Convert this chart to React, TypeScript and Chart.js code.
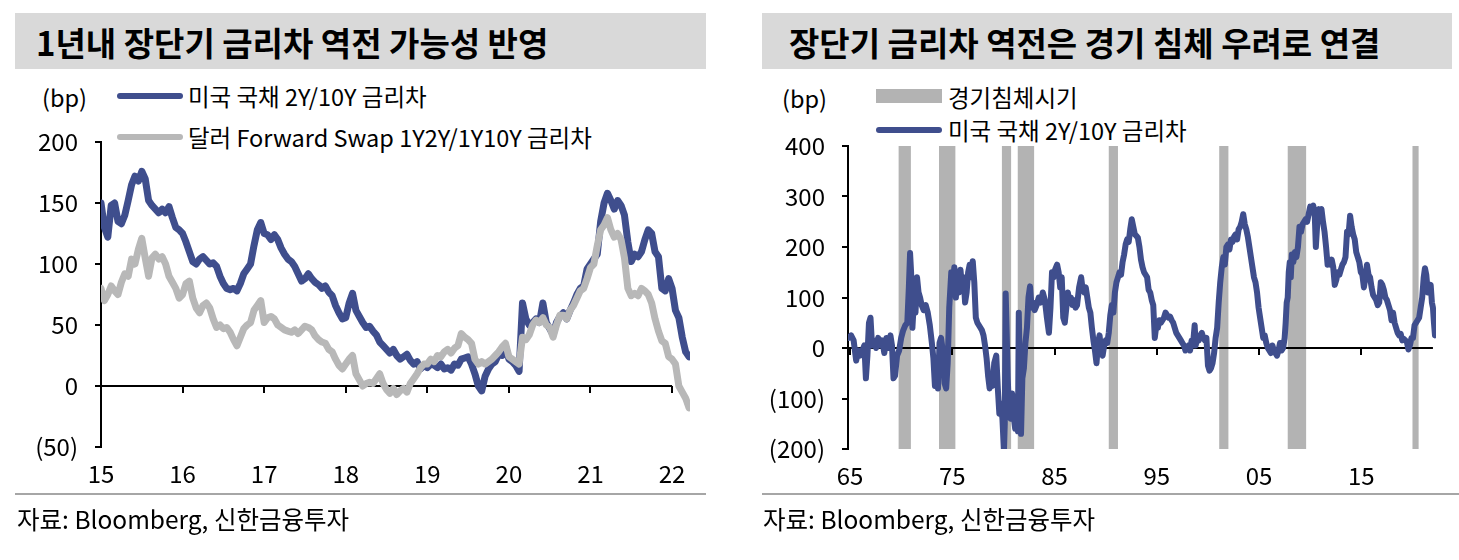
import React, { useEffect, useRef } from 'react';
import { Chart, registerables } from 'chart.js';

Chart.register(...registerables);

// ---------- style constants ----------
const NAVY = '#3f4e8d';
const LIGHT_GRAY = '#b8b8b8';
const REC_GRAY = '#b3b3b3';
const HEADER_BG = '#d9d9d9';
const RULE_GRAY = '#a6a6a6';
const FONT = '"Noto Sans CJK KR", "Noto Sans", sans-serif';

// ---------- texts ----------
const LEFT_TITLE = '1년내 장단기 금리차 역전 가능성 반영';
const RIGHT_TITLE = '장단기 금리차 역전은 경기 침체 우려로 연결';
const SERIES_US = '미국 국채 2Y/10Y 금리차';
const SERIES_FWD = '달러 Forward Swap 1Y2Y/1Y10Y 금리차';
const SERIES_REC = '경기침체시기';
const UNIT = '(bp)';
const SOURCE = '자료: Bloomberg, 신한금융투자';

// ---------- left chart data (semi-monthly, from Jan 2015) ----------
const LEFT_START_YEAR = 2015;
const LEFT_POINTS_PER_YEAR = 24;
const LEFT_US_2Y10Y = [
  150, 130, 122, 148, 150, 135, 133, 140, 152, 165, 172, 168, 176, 170, 152, 148, 145, 142, 145, 142, 147, 138, 130, 128,
  125, 118, 110, 102, 100, 104, 106, 103, 100, 101, 98, 90, 84, 80, 79, 80, 78, 84, 92, 96, 100, 115, 128, 134,
  125, 124, 120, 124, 120, 113, 108, 104, 102, 98, 92, 86, 88, 92, 88, 85, 83, 80, 82, 77, 74, 66, 60, 55,
  56, 68, 76, 62, 57, 52, 48, 49, 45, 42, 36, 33, 30, 27, 30, 25, 22, 24, 26, 21, 18, 20, 14, 17,
  15, 18, 17, 15, 18, 14, 15, 13, 18, 17, 22, 23, 24, 18, 10, 0, -4, 8, 14, 18, 20, 26, 25, 33,
  22, 20, 17, 12, 68, 55, 50, 52, 55, 52, 68, 52, 47, 42, 52, 57, 60, 55, 62, 68, 75, 80, 82, 96,
  100, 104, 108, 135, 150, 158, 152, 145, 152, 148, 140, 118, 102, 108, 106, 110, 120, 128, 125, 110, 106, 80, 78, 88,
  80, 62, 56, 40, 28, 24,
];
const LEFT_FWD_SWAP = [
  80, 70, 75, 82, 78, 75, 85, 92, 90, 104, 100, 112, 121, 105, 90, 105, 108, 104, 106, 100, 90, 85, 80, 72,
  75, 84, 86, 72, 64, 60, 66, 68, 64, 55, 48, 50, 47, 48, 44, 38, 33, 40, 47, 50, 52, 62, 66, 70,
  52, 56, 57, 55, 50, 48, 46, 45, 44, 46, 43, 46, 49, 48, 46, 41, 38, 36, 35, 30, 28, 22, 17, 14,
  18, 22, 25, 10, 5, 0, 2, 3, 2, 6, 10, 2, -3, -6, -2, -7, -4, -2, -5, 2, 6, 10, 15, 18,
  18, 22, 20, 25, 24, 28, 30, 27, 31, 33, 43, 40, 38, 35, 22, 18, 20, 18, 20, 22, 25, 28, 32, 35,
  24, 22, 20, 18, 40, 38, 42, 50, 54, 52, 56, 50, 48, 40, 50, 58, 58, 55, 62, 66, 72, 78, 80, 88,
  97, 100, 115, 128, 132, 138, 128, 122, 125, 120, 105, 80, 74, 76, 74, 80, 78, 75, 68, 55, 45, 37, 35, 24,
  22, 18, 0, -5, -10, -18,
];
const LEFT_X_TICKS = [2015, 2016, 2017, 2018, 2019, 2020, 2021, 2022];
const LEFT_Y_TICKS = [-50, 0, 50, 100, 150, 200];

// ---------- right chart data: [year, bp] ----------
const RIGHT_US_2Y10Y: [number, number][] = [
  [1964.85, 20], [1965.1, 25], [1965.35, 15], [1965.6, -25], [1965.8, -5], [1966.0, -15], [1966.2, -5], [1966.4, 5],
  [1966.55, -60], [1966.7, -15], [1966.85, 50], [1967.0, 60], [1967.15, 5], [1967.35, 15], [1967.55, 0], [1967.75, 20],
  [1967.95, 5], [1968.15, 15], [1968.35, -10], [1968.55, 20], [1968.75, 0], [1968.95, 25], [1969.1, 5], [1969.25, -60],
  [1969.4, -55], [1969.6, -15], [1969.8, -5], [1970.0, 20], [1970.2, 35], [1970.4, 45], [1970.6, 50], [1970.75, 120],
  [1970.87, 188], [1970.97, 150], [1971.1, 40], [1971.25, 95], [1971.4, 70], [1971.55, 140], [1971.7, 110], [1971.85, 100],
  [1972.0, 85], [1972.2, 75], [1972.4, 85], [1972.6, 70], [1972.8, 45], [1973.0, 10], [1973.15, -20], [1973.3, -75],
  [1973.45, -40], [1973.6, -80], [1973.75, 10], [1973.9, 20], [1974.1, -10], [1974.25, -70], [1974.4, -80], [1974.55, -30],
  [1974.7, 80], [1974.9, 150], [1975.05, 130], [1975.2, 160], [1975.35, 100], [1975.5, 150], [1975.65, 110], [1975.8, 155],
  [1975.95, 120], [1976.1, 140], [1976.25, 90], [1976.4, 110], [1976.55, 150], [1976.7, 165], [1976.85, 140], [1977.0, 172],
  [1977.15, 130], [1977.3, 60], [1977.45, 50], [1977.6, 45], [1977.75, 40], [1977.9, 35], [1978.05, 25], [1978.2, 5],
  [1978.35, -20], [1978.5, -55], [1978.65, -80], [1978.8, -60], [1978.95, -75], [1979.1, -30], [1979.3, -15], [1979.45, -80],
  [1979.6, -130], [1979.75, -110], [1979.9, -140], [1980.05, -205], [1980.13, -150], [1980.22, 108], [1980.32, 30], [1980.42, -60],
  [1980.55, -125], [1980.7, -140], [1980.85, -90], [1981.0, -135], [1981.15, -160], [1981.3, -100], [1981.42, -165], [1981.5, 70],
  [1981.6, -40], [1981.72, -170], [1981.85, -60], [1982.0, -40], [1982.15, 10], [1982.3, 40], [1982.45, 100], [1982.6, 122],
  [1982.75, 80], [1982.9, 90], [1983.05, 75], [1983.25, 85], [1983.45, 100], [1983.65, 90], [1983.85, 110], [1984.05, 95],
  [1984.25, 60], [1984.45, 30], [1984.6, 80], [1984.75, 150], [1984.9, 140], [1985.05, 155], [1985.25, 165], [1985.4, 150],
  [1985.55, 120], [1985.7, 140], [1985.85, 60], [1986.0, 50], [1986.15, 80], [1986.3, 110], [1986.45, 90], [1986.6, 100],
  [1986.75, 85], [1986.9, 95], [1987.05, 80], [1987.2, 85], [1987.4, 120], [1987.6, 140], [1987.75, 115], [1987.9, 110],
  [1988.05, 120], [1988.2, 100], [1988.35, 80], [1988.5, 70], [1988.65, 40], [1988.8, 15], [1988.95, -5], [1989.1, -30],
  [1989.25, 10], [1989.4, 25], [1989.55, -5], [1989.7, -15], [1989.85, 5], [1990.0, 15], [1990.15, 10], [1990.3, 30],
  [1990.45, 65], [1990.6, 85], [1990.75, 70], [1990.9, 110], [1991.05, 130], [1991.2, 140], [1991.35, 150], [1991.5, 145],
  [1991.65, 170], [1991.8, 185], [1991.95, 205], [1992.1, 215], [1992.25, 210], [1992.4, 235], [1992.55, 255], [1992.7, 240],
  [1992.85, 225], [1993.0, 222], [1993.15, 218], [1993.3, 200], [1993.45, 175], [1993.6, 160], [1993.75, 150], [1993.9, 145],
  [1994.05, 140], [1994.2, 115], [1994.35, 110], [1994.5, 95], [1994.65, 85], [1994.8, 20], [1994.95, 45], [1995.1, 40],
  [1995.25, 55], [1995.4, 50], [1995.55, 55], [1995.7, 60], [1995.85, 70], [1996.0, 65], [1996.15, 60], [1996.3, 62],
  [1996.45, 55], [1996.6, 50], [1996.75, 40], [1996.9, 30], [1997.05, 25], [1997.2, 20], [1997.35, 15], [1997.5, 10],
  [1997.65, 5], [1997.8, -5], [1997.95, 0], [1998.1, 5], [1998.25, -5], [1998.4, 15], [1998.55, 10], [1998.7, 45],
  [1998.8, 5], [1998.95, 20], [1999.1, 15], [1999.25, 25], [1999.4, 30], [1999.55, 20], [1999.7, 15], [1999.85, 20],
  [2000.0, -35], [2000.15, -45], [2000.3, -40], [2000.45, -30], [2000.6, -10], [2000.75, 20], [2000.9, 40], [2001.05, 90],
  [2001.2, 130], [2001.35, 160], [2001.5, 180], [2001.65, 165], [2001.8, 200], [2001.95, 205], [2002.1, 195], [2002.25, 215],
  [2002.4, 210], [2002.55, 220], [2002.7, 225], [2002.85, 215], [2003.0, 235], [2003.15, 240], [2003.3, 250], [2003.45, 265],
  [2003.6, 245], [2003.75, 235], [2003.9, 220], [2004.05, 200], [2004.2, 180], [2004.35, 160], [2004.5, 140], [2004.65, 130],
  [2004.8, 110], [2004.95, 80], [2005.1, 60], [2005.25, 40], [2005.4, 20], [2005.55, 25], [2005.7, 10], [2005.85, 0],
  [2006.0, -5], [2006.15, -10], [2006.3, 5], [2006.45, -5], [2006.6, -10], [2006.75, -15], [2006.9, -5], [2007.05, 10],
  [2007.2, -5], [2007.35, 0], [2007.5, 20], [2007.6, 50], [2007.7, 90], [2007.8, 100], [2007.9, 150], [2008.0, 170],
  [2008.1, 140], [2008.2, 185], [2008.35, 170], [2008.5, 190], [2008.65, 180], [2008.8, 200], [2008.95, 240], [2009.1, 230],
  [2009.25, 245], [2009.4, 250], [2009.55, 255], [2009.7, 250], [2009.85, 265], [2010.0, 280], [2010.15, 275], [2010.3, 282],
  [2010.45, 260], [2010.55, 200], [2010.7, 250], [2010.85, 275], [2011.0, 270], [2011.1, 275], [2011.25, 250], [2011.4, 230],
  [2011.55, 200], [2011.7, 165], [2011.85, 170], [2012.0, 165], [2012.1, 175], [2012.25, 160], [2012.4, 125], [2012.55, 135],
  [2012.7, 150], [2012.85, 145], [2013.0, 155], [2013.15, 165], [2013.3, 170], [2013.45, 180], [2013.6, 230], [2013.75, 225],
  [2013.9, 262], [2014.05, 240], [2014.2, 225], [2014.35, 215], [2014.5, 190], [2014.65, 180], [2014.8, 170], [2014.95, 150],
  [2015.1, 145], [2015.25, 120], [2015.4, 140], [2015.55, 165], [2015.7, 145], [2015.85, 140], [2016.0, 120], [2016.15, 105],
  [2016.3, 100], [2016.45, 95], [2016.6, 85], [2016.75, 90], [2016.9, 130], [2017.05, 125], [2017.2, 115], [2017.35, 100],
  [2017.5, 95], [2017.65, 85], [2017.8, 75], [2017.95, 55], [2018.1, 70], [2018.25, 50], [2018.4, 40], [2018.55, 30],
  [2018.7, 25], [2018.85, 28], [2019.0, 15], [2019.15, 18], [2019.3, 15], [2019.45, 12], [2019.6, -3], [2019.75, 5],
  [2019.9, 20], [2020.05, 20], [2020.2, 45], [2020.35, 50], [2020.5, 55], [2020.65, 60], [2020.8, 80], [2020.95, 100],
  [2021.1, 140], [2021.22, 158], [2021.35, 145], [2021.5, 110], [2021.65, 115], [2021.78, 125], [2021.9, 90], [2022.0, 80],
  [2022.1, 50], [2022.2, 25],
];
const RECESSIONS: [number, number][] = [
  [1969.75, 1970.95], [1973.7, 1975.3], [1979.85, 1980.75], [1981.4, 1983.0],
  [1990.3, 1991.2], [2001.1, 2002.0], [2007.8, 2009.6], [2020.0, 2020.6],
];
const RIGHT_X_TICKS = [1965, 1975, 1985, 1995, 2005, 2015];
const RIGHT_Y_TICKS = [-200, -100, 0, 100, 200, 300, 400];

// ---------- plugins ----------
function zeroAxisPlugin(endValue: number, tickValues: number[]) {
  return {
    id: 'zeroAxis',
    beforeDatasetsDraw(chart: any) {
      const { ctx, chartArea, scales } = chart;
      const x = scales.x;
      const y = scales.y;
      const y0 = Math.round(y.getPixelForValue(0));
      ctx.save();
      ctx.strokeStyle = '#000';
      ctx.lineWidth = 2;
      ctx.beginPath();
      ctx.moveTo(chartArea.left, y0);
      ctx.lineTo(x.getPixelForValue(endValue), y0);
      tickValues.forEach((v) => {
        const px = Math.round(x.getPixelForValue(v));
        ctx.moveTo(px, y0);
        ctx.lineTo(px, y0 + 7);
      });
      ctx.stroke();
      ctx.restore();
    },
  };
}

const recessionPlugin = {
  id: 'recessions',
  beforeDatasetsDraw(chart: any) {
    const { ctx, chartArea, scales } = chart;
    const x = scales.x;
    ctx.save();
    ctx.fillStyle = REC_GRAY;
    RECESSIONS.forEach(([s, e]) => {
      const x0 = x.getPixelForValue(s);
      const x1 = x.getPixelForValue(e);
      ctx.fillRect(x0, chartArea.top, x1 - x0, chartArea.bottom - chartArea.top);
    });
    ctx.restore();
  },
};

const yLabel = (v: any) => (Number(v) < 0 ? `(${-Number(v)})` : String(v));
const xLabel = (v: any) => String(v).slice(2);
const TICK_SIZE = 24;

function makeOptions(o: {
  xMin: number; xMax: number; xTicks: number[];
  yMin: number; yMax: number; yTicks: number[];
  padTop: number; padRight: number; yWidth: number; xHeight: number; labelPad: number;
}) {
  return {
    responsive: false,
    animation: false,
    events: [],
    layout: { padding: { top: o.padTop, right: o.padRight, left: 0, bottom: 0 } },
    plugins: { legend: { display: false }, tooltip: { enabled: false } },
    elements: { point: { radius: 0 }, line: { tension: 0, borderJoinStyle: 'round', borderCapStyle: 'round' } },
    scales: {
      x: {
        type: 'linear',
        min: o.xMin,
        max: o.xMax,
        afterBuildTicks: (s: any) => { s.ticks = o.xTicks.map((v) => ({ value: v })); },
        afterFit: (s: any) => {
          s.height = o.xHeight;
          s.paddingLeft = 0; s.paddingRight = 0; s.paddingTop = 0; s.paddingBottom = 0;
        },
        grid: { display: false, drawTicks: false },
        border: { display: false },
        ticks: {
          autoSkip: false, maxRotation: 0, padding: o.labelPad, color: '#000',
          font: { family: FONT, size: TICK_SIZE }, callback: xLabel,
        },
      },
      y: {
        type: 'linear',
        min: o.yMin,
        max: o.yMax,
        afterBuildTicks: (s: any) => { s.ticks = o.yTicks.map((v) => ({ value: v })); },
        afterFit: (s: any) => {
          s.width = o.yWidth;
          s.paddingLeft = 0; s.paddingRight = 0; s.paddingTop = 0; s.paddingBottom = 0;
        },
        grid: { drawOnChartArea: false, drawTicks: true, tickLength: 6, color: '#000', lineWidth: 2 },
        border: { display: true, color: '#000', width: 2 },
        ticks: { padding: 17, color: '#000', font: { family: FONT, size: TICK_SIZE }, callback: yLabel },
      },
    },
  } as any;
}

function leftConfig() {
  const toPts = (arr: number[]) =>
    arr.map((v, i) => ({ x: LEFT_START_YEAR + i / LEFT_POINTS_PER_YEAR, y: v }));
  return {
    type: 'line',
    data: {
      datasets: [
        { label: SERIES_FWD, data: toPts(LEFT_FWD_SWAP), borderColor: LIGHT_GRAY, borderWidth: 7, order: 0, fill: false },
        { label: SERIES_US, data: toPts(LEFT_US_2Y10Y), borderColor: NAVY, borderWidth: 7, order: 1, fill: false },
      ],
    },
    options: makeOptions({
      xMin: 2015, xMax: 2022.22, xTicks: LEFT_X_TICKS,
      yMin: -50, yMax: 200, yTicks: LEFT_Y_TICKS,
      padTop: 17, padRight: 30, yWidth: 101, xHeight: 53, labelPad: 12,
    }),
    plugins: [zeroAxisPlugin(2022, LEFT_X_TICKS)],
  } as any;
}

function rightConfig() {
  return {
    type: 'line',
    data: {
      datasets: [
        {
          label: SERIES_US,
          data: RIGHT_US_2Y10Y.map(([x, y]) => ({ x, y })),
          borderColor: NAVY, borderWidth: 6, fill: false,
        },
      ],
    },
    options: makeOptions({
      xMin: 1964.8, xMax: 2022.3, xTicks: RIGHT_X_TICKS,
      yMin: -200, yMax: 400, yTicks: RIGHT_Y_TICKS,
      padTop: 21, padRight: 23, yWidth: 108, xHeight: 51, labelPad: 12,
    }),
    plugins: [recessionPlugin, zeroAxisPlugin(2022, RIGHT_X_TICKS)],
  } as any;
}

function ChartCanvas({ left, top, width, height, build }: { left: number; top: number; width: number; height: number; build: () => any }) {
  const ref = useRef<HTMLCanvasElement>(null);
  useEffect(() => {
    if (!ref.current) return;
    const chart = new Chart(ref.current, build());
    return () => chart.destroy();
  }, []);
  return (
    <canvas
      ref={ref}
      width={width}
      height={height}
      style={{ position: 'absolute', left, top, width, height }}
    />
  );
}

function Label({ left, cy, size, bold, children }: { left: number; cy: number; size: number; bold?: boolean; children: React.ReactNode }) {
  return (
    <div
      style={{
        position: 'absolute', left, top: cy - size, height: size * 2, lineHeight: `${size * 2}px`,
        fontSize: size, fontWeight: bold ? 700 : 400, whiteSpace: 'nowrap', color: '#000',
      }}
    >
      {children}
    </div>
  );
}

function Swatch({ left, cy, w, h, color, round }: { left: number; cy: number; w: number; h: number; color: string; round?: boolean }) {
  return (
    <div style={{ position: 'absolute', left, top: cy - h / 2, width: w, height: h, background: color, borderRadius: round ? h / 2 : 0 }} />
  );
}

const LEGEND_SIZE = 23.5;
const TITLE_SIZE = 33;

export default function App() {
  return (
    <div
      style={{
        position: 'fixed', left: 0, top: 0, width: 1459, height: 560, background: '#fff',
        fontFamily: FONT, overflow: 'hidden',
      }}
    >
      {/* left panel */}
      <div style={{ position: 'absolute', left: 15, top: 13, width: 691, height: 56, background: HEADER_BG }} />
      <Label left={36} cy={42} size={TITLE_SIZE} bold>{LEFT_TITLE}</Label>
      <Label left={42} cy={97} size={LEGEND_SIZE}>{UNIT}</Label>
      <Swatch left={117} cy={96} w={66} h={6} color={NAVY} round />
      <Label left={188} cy={96} size={LEGEND_SIZE}>{SERIES_US}</Label>
      <Swatch left={117} cy={137} w={66} h={6} color={LIGHT_GRAY} round />
      <Label left={188} cy={137} size={LEGEND_SIZE}>{SERIES_FWD}</Label>
      <ChartCanvas left={0} top={125} width={720} height={375} build={leftConfig} />
      <div style={{ position: 'absolute', left: 15, top: 493, width: 691, height: 2, background: RULE_GRAY }} />
      <Label left={17} cy={518} size={24.5}>{SOURCE}</Label>

      {/* right panel */}
      <div style={{ position: 'absolute', left: 762, top: 13, width: 690, height: 56, background: HEADER_BG }} />
      <Label left={789} cy={42} size={TITLE_SIZE} bold>{RIGHT_TITLE}</Label>
      <Label left={782} cy={98} size={LEGEND_SIZE}>{UNIT}</Label>
      <Swatch left={876} cy={96} w={66} h={14} color={REC_GRAY} />
      <Label left={948} cy={97} size={LEGEND_SIZE}>{SERIES_REC}</Label>
      <Swatch left={876} cy={130} w={66} h={6} color={NAVY} round />
      <Label left={948} cy={130} size={LEGEND_SIZE}>{SERIES_US}</Label>
      <ChartCanvas left={740} top={125} width={719} height={375} build={rightConfig} />
      <div style={{ position: 'absolute', left: 762, top: 493, width: 697, height: 2, background: RULE_GRAY }} />
      <Label left={763} cy={518} size={24.5}>{SOURCE}</Label>
    </div>
  );
}
